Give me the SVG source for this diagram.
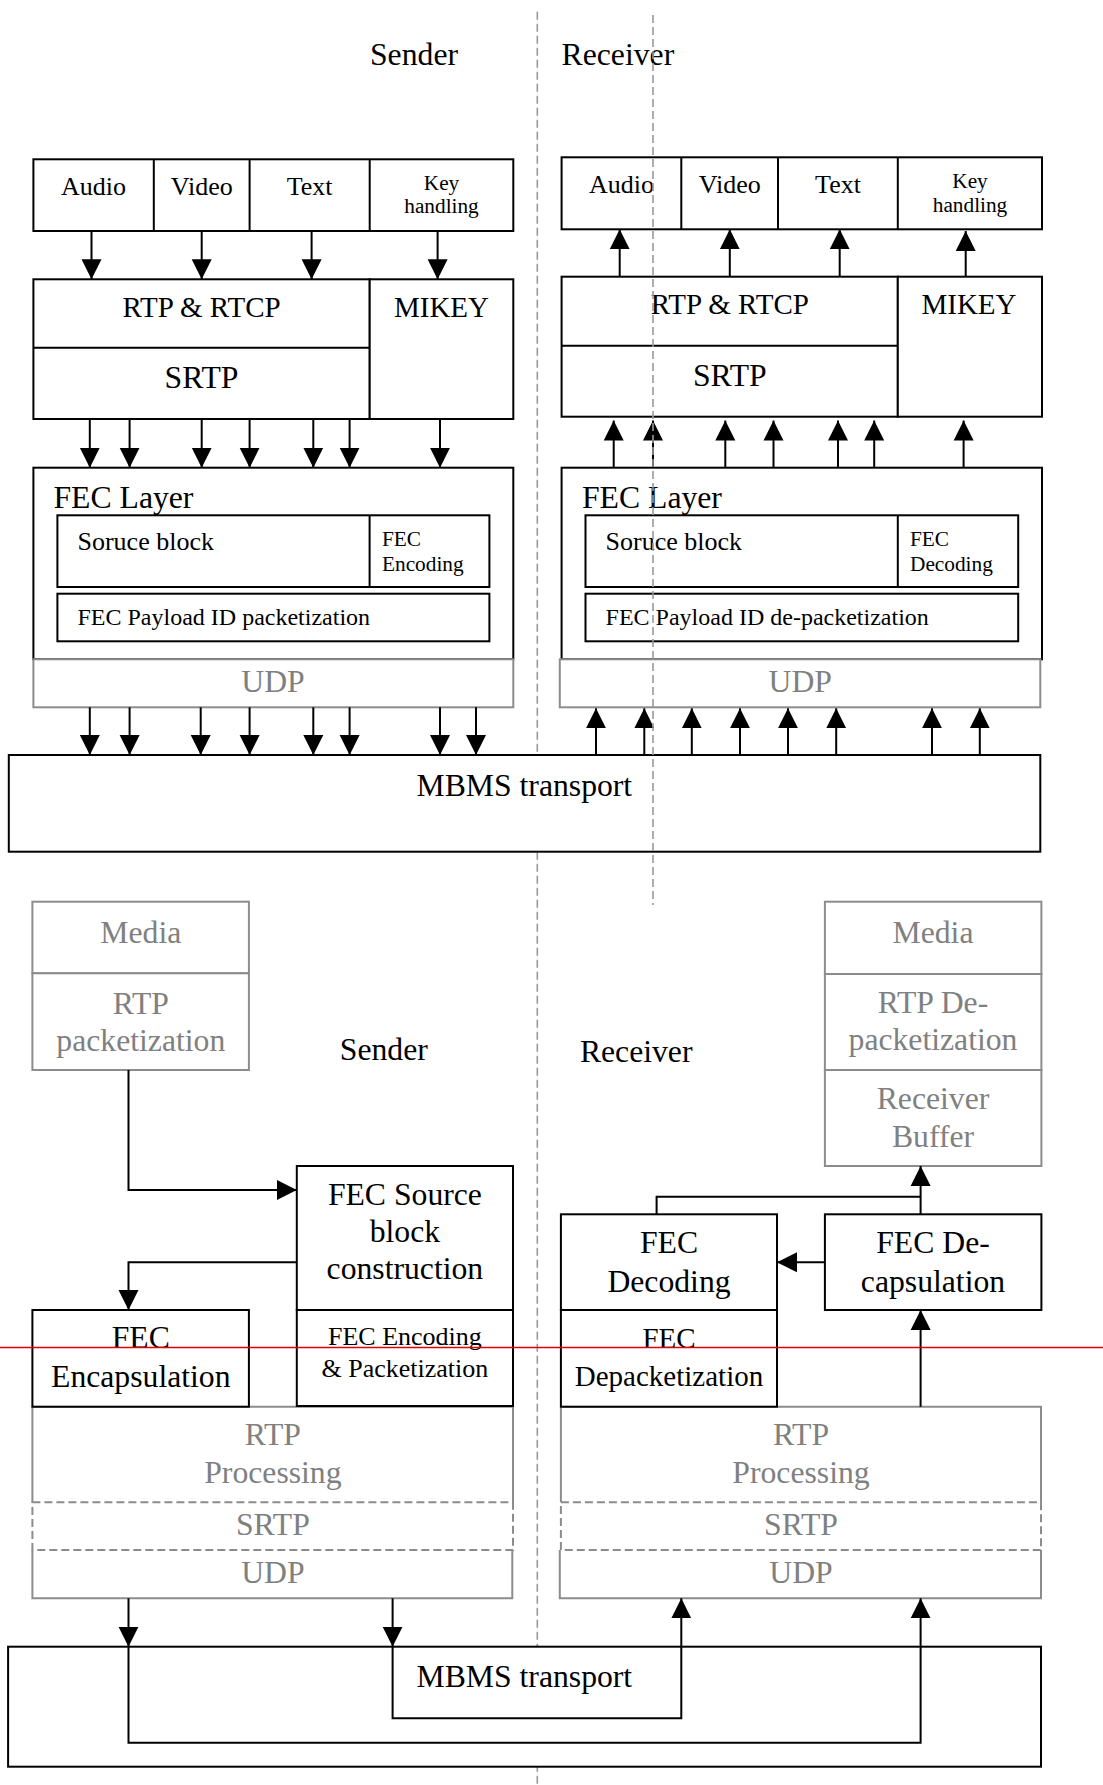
<svg xmlns="http://www.w3.org/2000/svg" width="1103" height="1785" viewBox="0 0 1103 1785">
<style>
.b{fill:#fff;stroke:#000;stroke-width:2}
.g{fill:#fff;stroke:#8c8c8c;stroke-width:2}
.gn{fill:none;stroke:#8c8c8c;stroke-width:2}
.gd{fill:none;stroke:#8c8c8c;stroke-width:2;stroke-dasharray:8 4}
.dv{stroke:#000;stroke-width:2}
.dvg{stroke:#8c8c8c;stroke-width:2}
.sep{stroke:#999;stroke-width:1.6;stroke-dasharray:8 4;fill:none}
text{font-family:"Liberation Serif","Times New Roman",serif;fill:#000}
.m{text-anchor:middle}
.gt{fill:#808080}
.f32{font-size:31.7px}
.f29{font-size:29px}
.f26{font-size:26px}
.f24{font-size:24px}
.f21{font-size:21.3px}
.c{fill:none;stroke:#000;stroke-width:2;marker-end:url(#ah)}
.cn{fill:none;stroke:#000;stroke-width:2}
</style>
<defs>
<marker id="ah" viewBox="0 0 20 20" refX="20" refY="10" markerWidth="20" markerHeight="21" markerUnits="userSpaceOnUse" orient="auto">
<path d="M0,0 L20,10 L0,20 z" fill="#000"/>
</marker>
</defs>
<rect x="0" y="0" width="1103" height="1785" fill="#fff"/>

<g id="separator-left"><line class="sep" x1="537.3" y1="11.7" x2="537.3" y2="1785"/></g>

<g id="titles">
<text class="f32" x="370" y="65">Sender</text>
<text class="f32" x="561.6" y="65">Receiver</text>
<text class="f32" x="339.8" y="1060">Sender</text>
<text class="f32" x="579.9" y="1061.7">Receiver</text>
</g>

<!-- TOP SENDER -->
<g id="s-media-row">
<rect class="b" x="33.4" y="159.3" width="479.9" height="71.7"/>
<line class="dv" x1="153.8" y1="159.3" x2="153.8" y2="231"/>
<line class="dv" x1="249.6" y1="159.3" x2="249.6" y2="231"/>
<line class="dv" x1="369.7" y1="159.3" x2="369.7" y2="231"/>
<text class="m f26" x="93.6" y="195">Audio</text>
<text class="m f26" x="201.7" y="195">Video</text>
<text class="m f26" x="309.6" y="195">Text</text>
<text class="m f21" x="441.5" y="190">Key</text>
<text class="m f21" x="441.5" y="213.3">handling</text>
</g>
<g id="s-rtp">
<rect class="b" x="33.4" y="279.3" width="336.3" height="139.7"/>
<line class="dv" x1="33.4" y1="347.7" x2="369.7" y2="347.7"/>
<text class="m f29" x="201.5" y="316.7">RTP &amp; RTCP</text>
<text class="m f32" x="201.5" y="388.3">SRTP</text>
</g>
<g id="s-mikey">
<rect class="b" x="369.7" y="279.3" width="143.6" height="139.7"/>
<text class="m f29" x="441.5" y="316.7">MIKEY</text>
</g>
<g id="s-fec-layer">
<rect class="b" x="33.4" y="467.7" width="479.9" height="191.6"/>
<text class="f32" x="53.5" y="508.3">FEC Layer</text>
<rect class="b" x="57.4" y="515.3" width="432" height="71.7"/>
<line class="dv" x1="369.6" y1="515.3" x2="369.6" y2="587"/>
<text class="f26" x="77.5" y="550">Soruce block</text>
<text class="f21" x="382" y="546">FEC</text>
<text class="f21" x="382" y="570.7">Encoding</text>
<rect class="b" x="57.4" y="593.7" width="432" height="47.6"/>
<text class="f24" x="77.5" y="625">FEC Payload ID packetization</text>
</g>
<g id="s-udp">
<rect class="g" x="33.4" y="659.3" width="479.9" height="48"/>
<text class="m f32 gt" x="273" y="692.3">UDP</text>
</g>

<!-- TOP RECEIVER -->
<g id="r-media-row">
<rect class="b" x="561.6" y="157.3" width="480.4" height="72"/>
<line class="dv" x1="681.3" y1="157.3" x2="681.3" y2="229.3"/>
<line class="dv" x1="778" y1="157.3" x2="778" y2="229.3"/>
<line class="dv" x1="897.8" y1="157.3" x2="897.8" y2="229.3"/>
<text class="m f26" x="621.4" y="193.3">Audio</text>
<text class="m f26" x="729.8" y="193.3">Video</text>
<text class="m f26" x="838" y="193.3">Text</text>
<text class="m f21" x="970" y="188.3">Key</text>
<text class="m f21" x="970" y="211.7">handling</text>
</g>
<g id="r-rtp">
<rect class="b" x="561.6" y="276.7" width="336.2" height="140"/>
<line class="dv" x1="561.6" y1="345.7" x2="897.8" y2="345.7"/>
<text class="m f29" x="729.8" y="314.3">RTP &amp; RTCP</text>
<text class="m f32" x="729.8" y="385.7">SRTP</text>
</g>
<g id="r-mikey">
<rect class="b" x="897.8" y="276.7" width="144.2" height="140"/>
<text class="m f29" x="969" y="314.3">MIKEY</text>
</g>
<g id="r-fec-layer">
<rect class="b" x="561.6" y="467.7" width="480.4" height="191.6"/>
<text class="f32" x="582" y="508.3">FEC Layer</text>
<rect class="b" x="585.5" y="515.3" width="432.7" height="71.7"/>
<line class="dv" x1="897.8" y1="515.3" x2="897.8" y2="587"/>
<text class="f26" x="605.6" y="550">Soruce block</text>
<text class="f21" x="910" y="546">FEC</text>
<text class="f21" x="910" y="570.7">Decoding</text>
<rect class="b" x="585.5" y="593.7" width="432.7" height="47.6"/>
<text class="f24" x="605.6" y="625">FEC Payload ID de-packetization</text>
</g>
<g id="r-udp">
<rect class="g" x="559.8" y="659.3" width="480.5" height="48"/>
<text class="m f32 gt" x="800.3" y="692.3">UDP</text>
</g>

<g id="mbms-top">
<rect class="b" x="8.8" y="755" width="1031.5" height="96.7"/>
<text class="f32" x="416.5" y="796">MBMS transport</text>
</g>

<!-- BOTTOM SENDER -->
<g id="s2-media">
<rect class="g" x="32.4" y="901.7" width="216.5" height="71.6"/>
<text class="m f32 gt" x="140.8" y="942.7">Media</text>
</g>
<g id="s2-rtp-pack">
<rect class="g" x="32.4" y="973.3" width="216.5" height="96.7"/>
<text class="m f32 gt" x="140.8" y="1014.3">RTP</text>
<text class="m f32 gt" x="140.8" y="1050.7">packetization</text>
</g>
<g id="s2-fec-source">
<rect class="b" x="296.8" y="1166" width="216.2" height="144"/>
<text class="m f32" x="404.9" y="1205">FEC Source</text>
<text class="m f32" x="404.9" y="1241.7">block</text>
<text class="m f32" x="404.9" y="1279.3">construction</text>
</g>
<g id="s2-rtp-proc">
<rect x="32.4" y="1406.7" width="480.6" height="95.6" fill="#fff"/>
<path class="gn" d="M32.4,1502.3 V1406.7 H513 V1502.3"/>
<text class="m f32 gt" x="272.9" y="1445">RTP</text>
<text class="m f32 gt" x="272.9" y="1483.3">Processing</text>
</g>
<g id="s2-fec-encap">
<rect class="b" x="32.4" y="1310" width="216.5" height="96.7"/>
<text class="m f32" x="140.8" y="1348.3">FEC</text>
<text class="m f32" x="140.8" y="1386.7">Encapsulation</text>
</g>
<g id="s2-fec-enc">
<rect class="b" x="296.8" y="1310" width="216.2" height="96"/>
<text class="m f26" x="404.9" y="1345">FEC Encoding</text>
<text class="m f26" x="404.9" y="1376.7">&amp; Packetization</text>
</g>
<g id="s2-srtp">
<rect class="gd" x="32.4" y="1502.3" width="480.6" height="47.7"/>
<text class="m f32 gt" x="272.9" y="1535">SRTP</text>
</g>
<g id="s2-udp">
<path class="gn" d="M32.4,1550 V1598.3 H512.3 V1550"/>
<text class="m f32 gt" x="272.9" y="1583.3">UDP</text>
</g>

<!-- BOTTOM RECEIVER -->
<g id="r2-media">
<rect class="g" x="824.9" y="901.7" width="216.5" height="72.3"/>
<text class="m f32 gt" x="933" y="942.7">Media</text>
</g>
<g id="r2-rtp-depack">
<rect class="g" x="824.9" y="974" width="216.5" height="96"/>
<text class="m f32 gt" x="933" y="1013.3">RTP De-</text>
<text class="m f32 gt" x="933" y="1050">packetization</text>
</g>
<g id="r2-buffer">
<rect class="g" x="824.9" y="1070" width="216.5" height="96"/>
<text class="m f32 gt" x="933" y="1109.3">Receiver</text>
<text class="m f32 gt" x="933" y="1146.7">Buffer</text>
</g>
<g id="r2-fec-dec">
<rect class="b" x="560.9" y="1214.3" width="216.1" height="95.7"/>
<text class="m f32" x="669" y="1253.3">FEC</text>
<text class="m f32" x="669" y="1291.7">Decoding</text>
</g>
<g id="r2-fec-decap">
<rect class="b" x="824.9" y="1214.3" width="216.5" height="95.7"/>
<text class="m f32" x="933" y="1253.3">FEC De-</text>
<text class="m f32" x="933" y="1291.7">capsulation</text>
</g>
<g id="r2-rtp-proc">
<rect x="560.9" y="1406.7" width="480.1" height="95.6" fill="#fff"/>
<path class="gn" d="M560.9,1502.3 V1406.7 H1041 V1502.3"/>
<text class="m f32 gt" x="801" y="1445">RTP</text>
<text class="m f32 gt" x="801" y="1483.3">Processing</text>
</g>
<g id="r2-fec-depack">
<rect class="b" x="560.9" y="1310" width="216.1" height="96.7"/>
<text class="m f29" x="669" y="1348.3">FEC</text>
<text class="m f29" x="669" y="1386">Depacketization</text>
</g>
<g id="r2-srtp">
<rect class="gd" x="560.9" y="1502.3" width="480.1" height="47.7"/>
<text class="m f32 gt" x="801" y="1535">SRTP</text>
</g>
<g id="r2-udp">
<path class="gn" d="M559.8,1550 V1598.3 H1041 V1550"/>
<text class="m f32 gt" x="801" y="1583.3">UDP</text>
</g>

<g id="mbms-bottom">
<rect class="b" x="8.1" y="1646.7" width="1032.9" height="120"/>
<text class="f32" x="416.5" y="1686.7">MBMS transport</text>
</g>

<g id="connectors">
<!-- sender top: media row to RTP/MIKEY -->
<line class="c" x1="91.5" y1="231" x2="91.5" y2="279.3"/>
<line class="c" x1="201.7" y1="231" x2="201.7" y2="279.3"/>
<line class="c" x1="311.6" y1="231" x2="311.6" y2="279.3"/>
<line class="c" x1="437.6" y1="231" x2="437.6" y2="279.3"/>
<!-- sender RTP to FEC layer -->
<line class="c" x1="89.8" y1="419" x2="89.8" y2="467.7"/>
<line class="c" x1="129.6" y1="419" x2="129.6" y2="467.7"/>
<line class="c" x1="201.7" y1="419" x2="201.7" y2="467.7"/>
<line class="c" x1="249.6" y1="419" x2="249.6" y2="467.7"/>
<line class="c" x1="313.3" y1="419" x2="313.3" y2="467.7"/>
<line class="c" x1="349.6" y1="419" x2="349.6" y2="467.7"/>
<line class="c" x1="440" y1="419" x2="440" y2="467.7"/>
<!-- sender UDP to MBMS -->
<line class="c" x1="89.8" y1="707.3" x2="89.8" y2="755"/>
<line class="c" x1="129.6" y1="707.3" x2="129.6" y2="755"/>
<line class="c" x1="200.7" y1="707.3" x2="200.7" y2="755"/>
<line class="c" x1="249.6" y1="707.3" x2="249.6" y2="755"/>
<line class="c" x1="313.3" y1="707.3" x2="313.3" y2="755"/>
<line class="c" x1="349.6" y1="707.3" x2="349.6" y2="755"/>
<line class="c" x1="440" y1="707.3" x2="440" y2="755"/>
<line class="c" x1="476" y1="707.3" x2="476" y2="755"/>
<!-- receiver top: RTP to media row -->
<line class="c" x1="619.7" y1="276.7" x2="619.7" y2="229.3"/>
<line class="c" x1="729.8" y1="276.7" x2="729.8" y2="229.3"/>
<line class="c" x1="839.7" y1="276.7" x2="839.7" y2="229.3"/>
<line class="c" x1="965.7" y1="276.7" x2="965.7" y2="231"/>
<!-- receiver FEC to SRTP -->
<line class="c" x1="613.7" y1="467.7" x2="613.7" y2="420.5"/>
<line class="c" x1="653" y1="467.7" x2="653" y2="420.5"/>
<line class="c" x1="725.3" y1="467.7" x2="725.3" y2="420.5"/>
<line class="c" x1="773.5" y1="467.7" x2="773.5" y2="420.5"/>
<line class="c" x1="838" y1="467.7" x2="838" y2="420.5"/>
<line class="c" x1="874.2" y1="467.7" x2="874.2" y2="420.5"/>
<line class="c" x1="963.6" y1="467.7" x2="963.6" y2="420.5"/>
<!-- receiver MBMS to UDP -->
<line class="c" x1="596" y1="755" x2="596" y2="708.3"/>
<line class="c" x1="644.3" y1="755" x2="644.3" y2="708.3"/>
<line class="c" x1="691.8" y1="755" x2="691.8" y2="708.3"/>
<line class="c" x1="740" y1="755" x2="740" y2="708.3"/>
<line class="c" x1="788" y1="755" x2="788" y2="708.3"/>
<line class="c" x1="836.2" y1="755" x2="836.2" y2="708.3"/>
<line class="c" x1="932" y1="755" x2="932" y2="708.3"/>
<line class="c" x1="979.8" y1="755" x2="979.8" y2="708.3"/>
<!-- bottom sender -->
<polyline class="c" points="128.5,1070 128.5,1190 296.8,1190"/>
<polyline class="c" points="296.8,1262.3 128.5,1262.3 128.5,1310"/>
<line class="c" x1="128.5" y1="1598.3" x2="128.5" y2="1646.7"/>
<line class="c" x1="392.6" y1="1598.3" x2="392.6" y2="1646.7"/>
<!-- bottom transport paths -->
<polyline class="c" points="128.5,1646.7 128.5,1742.7 920.6,1742.7 920.6,1598.3"/>
<polyline class="c" points="392.6,1646.7 392.6,1718.3 681.3,1718.3 681.3,1598.3"/>
<!-- bottom receiver -->
<line class="c" x1="920.6" y1="1406.7" x2="920.6" y2="1310"/>
<line class="c" x1="824.9" y1="1262.3" x2="777" y2="1262.3"/>
<line class="c" x1="920.6" y1="1214.3" x2="920.6" y2="1166"/>
<polyline class="cn" points="656.6,1214.3 656.6,1196.7 920.6,1196.7"/>
</g>

<g id="separator-right"><line class="sep" x1="653" y1="15" x2="653" y2="905"/></g>
<g id="red-line"><line x1="0" y1="1347.5" x2="1103" y2="1347.5" stroke="#e00000" stroke-width="1.5"/></g>
</svg>
